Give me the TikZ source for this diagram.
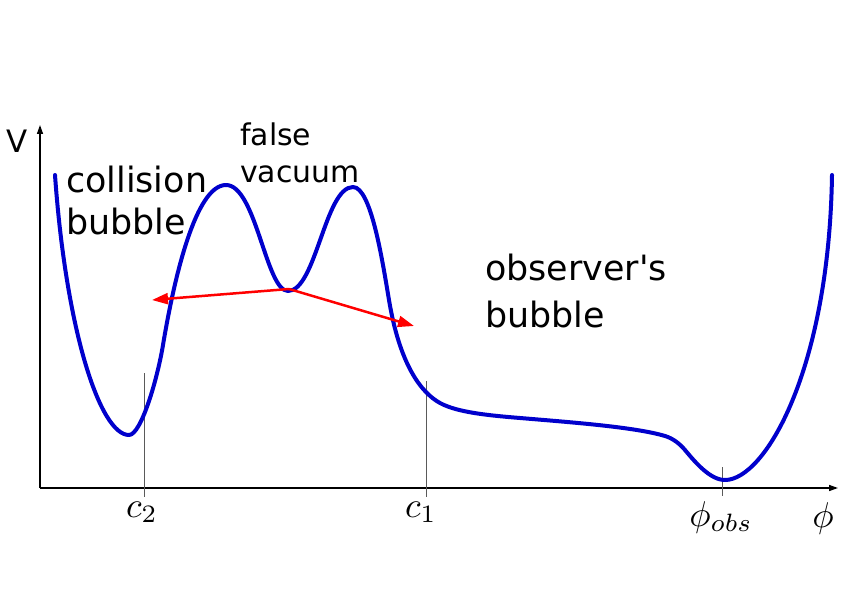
\documentclass[tikz,border=0pt]{standalone}
\usepackage{fontspec}
\setmainfont{DejaVu Sans}[Ligatures=TeXOff]
\usetikzlibrary{arrows.meta}
\definecolor{curveblue}{RGB}{0,0,204}
\definecolor{tickgray}{RGB}{90,90,90}
\begin{document}
\begin{tikzpicture}[x=1bp,y=-1bp,
  potential/.style={line width=4bp, draw=curveblue, line join=round, line cap=round},
  redarrow/.style={line width=2.5bp, draw=red, fill=red, -{Triangle[length=16bp,width=11bp]}},
  axisline/.style={line width=1.5bp, draw=black, -{Triangle[length=9bp,width=6bp]}},
  tickline/.style={line width=1bp, draw=tickgray},
  lbl/.style={inner sep=0, anchor=base west, align=left},
  mathlbl/.style={inner sep=0, anchor=base, font=\normalsize, scale=3.6, transform shape}]
\useasboundingbox (0,0) rectangle (842,595);
\fill[white] (0,0) rectangle (842,595);

% axes
\coordinate (O) at (40,488);
\coordinate (ytop) at (40,125);
\coordinate (xend) at (838,488);
\draw[axisline] (O) -- (ytop);
\draw[axisline] (O) -- (xend);

% ticks
\coordinate (c2t) at (144.5,373); \coordinate (c2b) at (144.5,497);
\coordinate (c1t) at (426,381); \coordinate (c1b) at (426,497);
\coordinate (pot) at (722,467); \coordinate (pob) at (722,496);
\draw[tickline] (c2t) -- (c2b);
\draw[tickline] (c1t) -- (c1b);
\draw[tickline] (pot) -- (pob);

% potential curve
\draw[potential] (55,175) .. controls (66,330) and (100,435) .. (129,435)
 .. controls (141,435) and (157.3,379.5) .. (163,345)
 .. controls (174.5,276) and (196,185) .. (226,185)
 .. controls (256,185) and (266,291) .. (288,291)
 .. controls (316,291) and (325,187) .. (353,187)
 .. controls (371,187) and (382.4,260.6) .. (389,300)
 .. controls (399.7,364.1) and (420.7,392.4) .. (440,403)
 .. controls (457.5,412.6) and (490,415.5) .. (520,418)
 .. controls (570,422.2) and (635,427) .. (665,436)
 .. controls (673,438.4) and (680,444) .. (685,450)
 .. controls (695,462) and (710,480) .. (725,480)
 .. controls (765,480) and (829,370) .. (832,175);

% tunnelling arrows
\coordinate (fvmin) at (289,289);
\coordinate (la) at (152,300);
\coordinate (ra) at (414,326);
\draw[redarrow] (fvmin) -- (la);
\draw[redarrow] (fvmin) -- (ra);

% text labels
\node[lbl, font=\fontsize{31}{37}\selectfont] (Vlab) at (6,153) {V};
\node[lbl, font=\fontsize{35}{43}\selectfont] (coll) at (66,235) {collision\\bubble};
\node[lbl, font=\fontsize{30}{38}\selectfont] (false) at (240,183) {false\\vacuum};
\node[lbl, font=\fontsize{35}{47}\selectfont] (obs) at (485,327) {observer's\\bubble};

% axis labels
\node[mathlbl] (c2) at (142,517) {$c_2$};
\node[mathlbl] (c1) at (421,517) {$c_1$};
\node[mathlbl] (phiobs) at (721,526) {$\phi_{obs}$};
\node[mathlbl] (phi) at (823,527) {$\phi$};
\end{tikzpicture}
\end{document}
